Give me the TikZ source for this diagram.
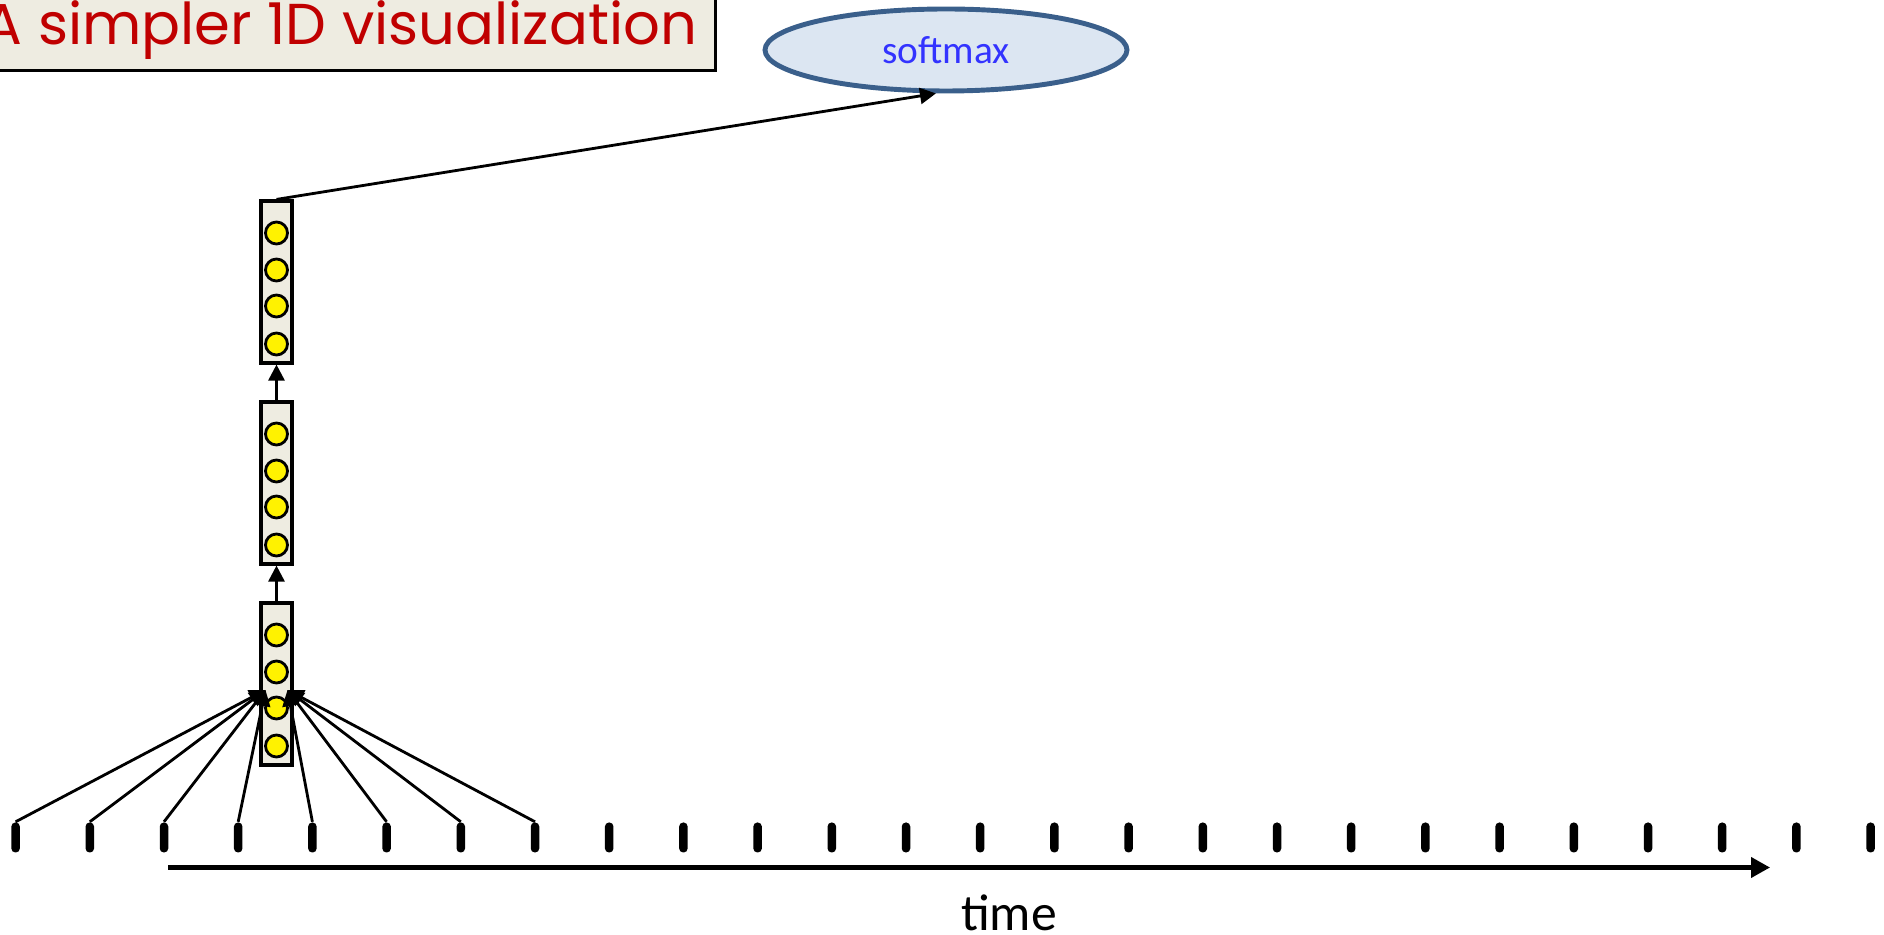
\documentclass[tikz,border=0pt]{standalone}
\usepackage{fontspec}
\setmainfont{Carlito}
\newfontfamily\titlefont{Poppins}
\usetikzlibrary{arrows.meta,calc,shapes.geometric}

\definecolor{paper}{HTML}{EEECE1}
\definecolor{titlered}{HTML}{C00000}
\definecolor{smfill}{HTML}{DCE6F2}
\definecolor{smedge}{HTML}{3A5F8B}
\definecolor{smtext}{HTML}{3333FF}

\begin{document}
\begin{tikzpicture}[
  >=Triangle,
  titlebox/.style={draw, line width=0.9pt, fill=paper, inner sep=0pt, text=titlered,
    font=\titlefont\fontsize{16.4}{20}\selectfont},
  smnode/.style={ellipse, draw=smedge, line width=1.4pt, fill=smfill, inner sep=0pt,
    minimum width=3.62cm, minimum height=0.82cm, text=smtext, font=\fontsize{11.2}{13}\selectfont},
  hlayer/.style={draw, line width=0.9pt, fill=paper, inner sep=0pt,
    minimum width=0.31cm, minimum height=1.62cm},
  neuron/.style={circle, draw, line width=0.8pt, fill=yellow, inner sep=0pt, minimum size=0.22cm},
  tickmark/.style={fill=black, rounded corners=0.04cm, inner sep=0pt,
    minimum width=0.085cm, minimum height=0.30cm},
  arr/.style={-{Triangle[length=1.6mm, width=1.6mm]}, line width=0.8pt},
  timearr/.style={-{Triangle[length=1.9mm, width=2mm]}, line width=1.15pt},
]
  \useasboundingbox (0,0) rectangle (18.84,9.35);

  % ===== title and output =====
  \node[titlebox, minimum width=7.5cm, minimum height=0.8cm, anchor=south east] (title) at (7.17,8.63)
    {A simpler 1D visualization};
  \node[smnode] (softmax) at (9.46,8.85) {softmax};

  % ===== stacked layers =====
  \foreach \name/\y in {col1/6.53, col2/4.52, col3/2.51} {
    \node[hlayer] (\name) at (2.765,\y) {};
    \foreach \k/\dy in {1/0.49, 2/0.12, 3/-0.24, 4/-0.62}
      \node[neuron] (\name-\k) at ($(\name.center)+(0,\dy)$) {};
  }

  % ===== input ticks =====
  \foreach \i in {0,...,25}
    \node[tickmark] (t\i) at (0.156+0.742*\i,0.975) {};

  \coordinate (inL) at ($(col3.center)+(-0.11,-0.06)$);
  \coordinate (inR) at ($(col3.center)+(0.11,-0.06)$);
  \foreach \i in {0,...,3}
    \draw[arr] (t\i.north) -- (inL);
  \foreach \i in {4,...,7}
    \draw[arr] (t\i.north) -- (inR);

  \draw[arr] (col3.north) -- (col2.south);
  \draw[arr] (col2.north) -- (col1.south);
  \draw[arr] (col1.north) -- (softmax.-103);

  % ===== time axis =====
  \coordinate (tstart) at (1.68,0.675);
  \coordinate (tend) at (17.70,0.675);
  \draw[timearr] (tstart) -- (tend);
  \node[font=\fontsize{14.7}{17}\selectfont] (timelbl) at (10.09,0.22) {time};
\end{tikzpicture}
\end{document}
